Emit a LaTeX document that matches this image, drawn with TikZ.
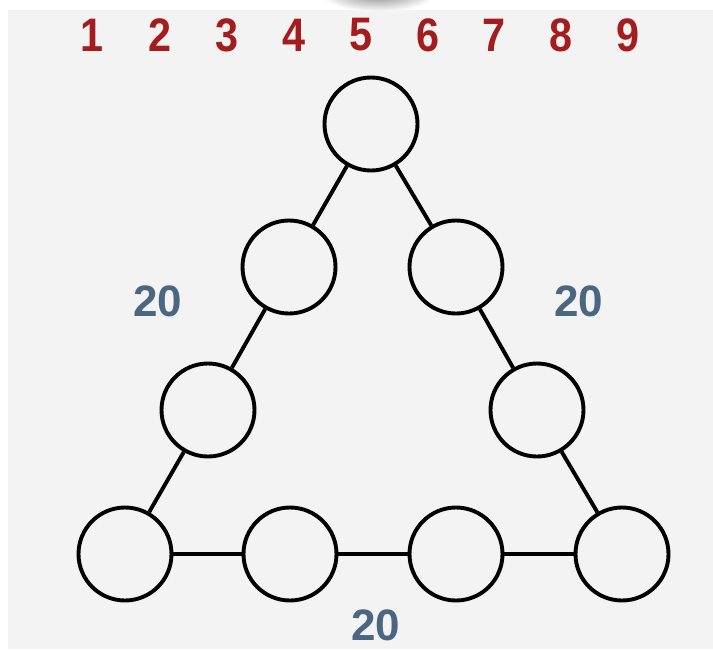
\documentclass[tikz,border=0pt]{standalone}
\usepackage{fontspec}
\setmainfont{Liberation Sans}
\definecolor{bgray}{HTML}{F3F3F3}
\definecolor{numred}{HTML}{A51C1E}
\definecolor{sumblue}{HTML}{4A6680}
\begin{document}
\begin{tikzpicture}[x=1pt,y=-1pt,
  slot/.style={circle,draw=black,line width=3.9pt,minimum size=93pt,inner sep=0pt,fill=bgray},
  link/.style={line width=3.9pt},
  digit/.style={text=numred,font=\fontsize{47}{47}\selectfont\bfseries,inner sep=0pt},
  total/.style={text=sumblue,font=\fontsize{44}{44}\selectfont\bfseries,inner sep=0pt}]
\useasboundingbox (0,0) rectangle (713,649);
\fill[white] (0,0) rectangle (713,649);
\fill[bgray] (8,10) rectangle (713,649);
\begin{scope}
\clip (0,0) rectangle (713,10);
\shade[inner color=gray!80!black,outer color=white] (378,-12) ellipse (62pt and 24pt);
\end{scope}
% digits
\foreach \d/\x in {1/92,2/160,3/227,4/294,5/361,6/428,7/494,8/561,9/628}
  \node[digit] (n\d) at (\x,35) {\scalebox{0.88}[1]{\d}};
% circles
\node[slot] (t)  at (371,124) {};
\node[slot] (l1) at (289,267) {};
\node[slot] (r1) at (456,267) {};
\node[slot] (l2) at (208,410) {};
\node[slot] (r2) at (537,410) {};
\node[slot] (b1) at (125,554) {};
\node[slot] (b2) at (290,554) {};
\node[slot] (b3) at (456,554) {};
\node[slot] (b4) at (622,554) {};
% links
\draw[link] (t) -- (l1);
\draw[link] (l1) -- (l2);
\draw[link] (l2) -- (b1);
\draw[link] (t) -- (r1);
\draw[link] (r1) -- (r2);
\draw[link] (r2) -- (b4);
\draw[link] (b1) -- (b2);
\draw[link] (b2) -- (b3);
\draw[link] (b3) -- (b4);
% sums
\node[total] (sl) at (158,301) {20};
\node[total] (sr) at (579,301) {20};
\node[total] (sb) at (376,625) {20};
\end{tikzpicture}
\end{document}
